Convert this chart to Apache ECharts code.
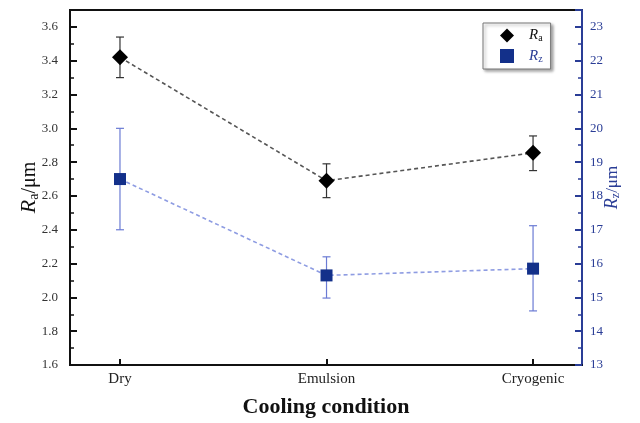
<!DOCTYPE html>
<html><head><meta charset="utf-8">
<script src="https://cdn.jsdelivr.net/npm/echarts@6/dist/echarts.min.js"></script>
<style>html,body{margin:0;padding:0;background:#fff}#c{width:640px;height:423px}</style>
</head><body><div id="c"></div>
<script>
const categories = ['Dry', 'Emulsion', 'Cryogenic'];
const raValues = [3.42, 2.69, 2.855];
const raLow = [3.30, 2.59, 2.75];
const raHigh = [3.54, 2.79, 2.955];
const rzValues = [18.5, 15.65, 15.85];
const rzLow = [17.0, 14.98, 14.6];
const rzHigh = [20.0, 16.2, 17.12];

const FONT = "'Liberation Serif','Times New Roman',serif";
const BLUE = '#2a3d96';

function errSeries(low, high, axisIdx, color, capW) {
  return {
    type: 'custom', yAxisIndex: axisIdx, z: 1, silent: true,
    data: low.map((l, i) => [i, l, high[i]]),
    renderItem(params, api) {
      const x = api.value(0);
      const p1 = api.coord([x, api.value(2)]);
      const p2 = api.coord([x, api.value(1)]);
      const st = { stroke: color, lineWidth: 1.2 };
      return { type: 'group', children: [
        { type: 'line', shape: { x1: p1[0], y1: p1[1], x2: p2[0], y2: p2[1] }, style: st },
        { type: 'line', shape: { x1: p1[0] - capW, y1: p1[1], x2: p1[0] + capW, y2: p1[1] }, style: st },
        { type: 'line', shape: { x1: p2[0] - capW, y1: p2[1], x2: p2[0] + capW, y2: p2[1] }, style: st }
      ]};
    }
  };
}

const chart = echarts.init(document.getElementById('c'));
chart.setOption({
  animation: false,
  grid: { left: 70, right: 58, top: 10, bottom: 56, show: true, borderColor: '#111', borderWidth: 2, backgroundColor: 'transparent' },
  legend: {
    left: 483, top: 23, orient: 'vertical', itemGap: 5, itemWidth: 14, itemHeight: 14,
    padding: [5, 8, 5, 17], borderColor: '#777', borderWidth: 1, backgroundColor: '#fff',
    shadowColor: 'rgba(0,0,0,0.35)', shadowBlur: 3, shadowOffsetX: 2, shadowOffsetY: 2,
    formatter: name => name === 'Ra' ? '{sp|}{R|R}{s|a}' : '{sp|}{Rb|R}{sb|z}',
    textStyle: { fontFamily: FONT, rich: {
      sp: { width: 10 },
      R: { fontStyle: 'italic', fontSize: 15, color: '#111', fontFamily: FONT },
      s: { fontSize: 10, color: '#111', fontFamily: FONT, padding: [6, 0, 0, 0] },
      Rb: { fontStyle: 'italic', fontSize: 15, color: BLUE, fontFamily: FONT },
      sb: { fontSize: 10, color: BLUE, fontFamily: FONT, padding: [6, 0, 0, 0] }
    }},
    data: [{ name: 'Ra', icon: 'diamond' }, { name: 'Rz', icon: 'rect' }]
  },
  xAxis: {
    type: 'value', min: -0.242, max: 2.237,
    name: 'Cooling condition', nameLocation: 'middle', nameGap: 31,
    nameTextStyle: { fontFamily: FONT, fontSize: 22, fontWeight: 'bold', color: '#111' },
    axisLine: { onZero: false, lineStyle: { color: '#111', width: 2 } },
    axisTick: { inside: true, length: 6, customValues: [0, 1, 2], lineStyle: { color: '#111', width: 2 } },
    axisLabel: { customValues: [0, 1, 2], formatter: v => categories[Math.round(v)] || '', fontFamily: FONT, fontSize: 15, color: '#222', margin: 7 },
    splitLine: { show: false }
  },
  yAxis: [{
    type: 'value', min: 1.6, max: 3.7, interval: 0.2, position: 'left',
    name: '{R|R}{s|a}{u|/μm}', nameLocation: 'middle', nameGap: 29, nameMoveOverlap: false,
    nameTextStyle: { fontFamily: FONT, rich: {
      R: { fontStyle: 'italic', fontSize: 22, color: '#111', fontFamily: FONT },
      s: { fontSize: 14, color: '#111', fontFamily: FONT, padding: [9, 0, 0, 0] },
      u: { fontSize: 20, color: '#111', fontFamily: FONT }
    }},
    axisLine: { show: true, onZero: false, lineStyle: { color: '#111', width: 2 } },
    axisTick: { inside: true, length: 7, lineStyle: { color: '#111', width: 2 } },
    minorTick: { show: true, splitNumber: 2, length: 4, lineStyle: { color: '#111', width: 1.5 } },
    axisLabel: { fontFamily: FONT, fontSize: 13, color: '#333', margin: 12,
      formatter: v => (v > 3.65 ? '' : v.toFixed(1)) },
    splitLine: { show: false }
  }, {
    type: 'value', min: 13, max: 23.5, interval: 1, position: 'right',
    name: '{R|R}{s|z}{u|/μm}', nameLocation: 'middle', nameGap: 21, nameMoveOverlap: false,
    nameTextStyle: { fontFamily: FONT, rich: {
      R: { fontStyle: 'italic', fontSize: 18, color: BLUE, fontFamily: FONT },
      s: { fontSize: 12, color: BLUE, fontFamily: FONT, padding: [7, 0, 0, 0] },
      u: { fontSize: 17, color: BLUE, fontFamily: FONT }
    }},
    axisLine: { show: true, onZero: false, lineStyle: { color: BLUE, width: 2 } },
    axisTick: { inside: true, length: 7, lineStyle: { color: BLUE, width: 2 } },
    minorTick: { show: true, splitNumber: 2, length: 4, lineStyle: { color: BLUE, width: 1.5 } },
    axisLabel: { fontFamily: FONT, fontSize: 13, color: BLUE, margin: 8,
      formatter: v => (Number.isInteger(v) ? String(v) : '') },
    splitLine: { show: false }
  }],
  series: [
    errSeries(raLow, raHigh, 0, '#333', 4),
    errSeries(rzLow, rzHigh, 1, '#6b7bd4', 4),
    {
      name: 'Ra', type: 'line', yAxisIndex: 0, z: 3,
      data: raValues.map((v, i) => [i, v]),
      symbol: 'diamond', symbolSize: 16,
      itemStyle: { color: '#000' },
      lineStyle: { color: '#555', width: 1.6, type: [4, 3] }
    },
    {
      name: 'Rz', type: 'line', yAxisIndex: 1, z: 3,
      data: rzValues.map((v, i) => [i, v]),
      symbol: 'rect', symbolSize: 12,
      itemStyle: { color: '#13308a' },
      lineStyle: { color: '#8e9ce2', width: 1.6, type: [4, 3] }
    }
  ]
});
</script></body></html>
